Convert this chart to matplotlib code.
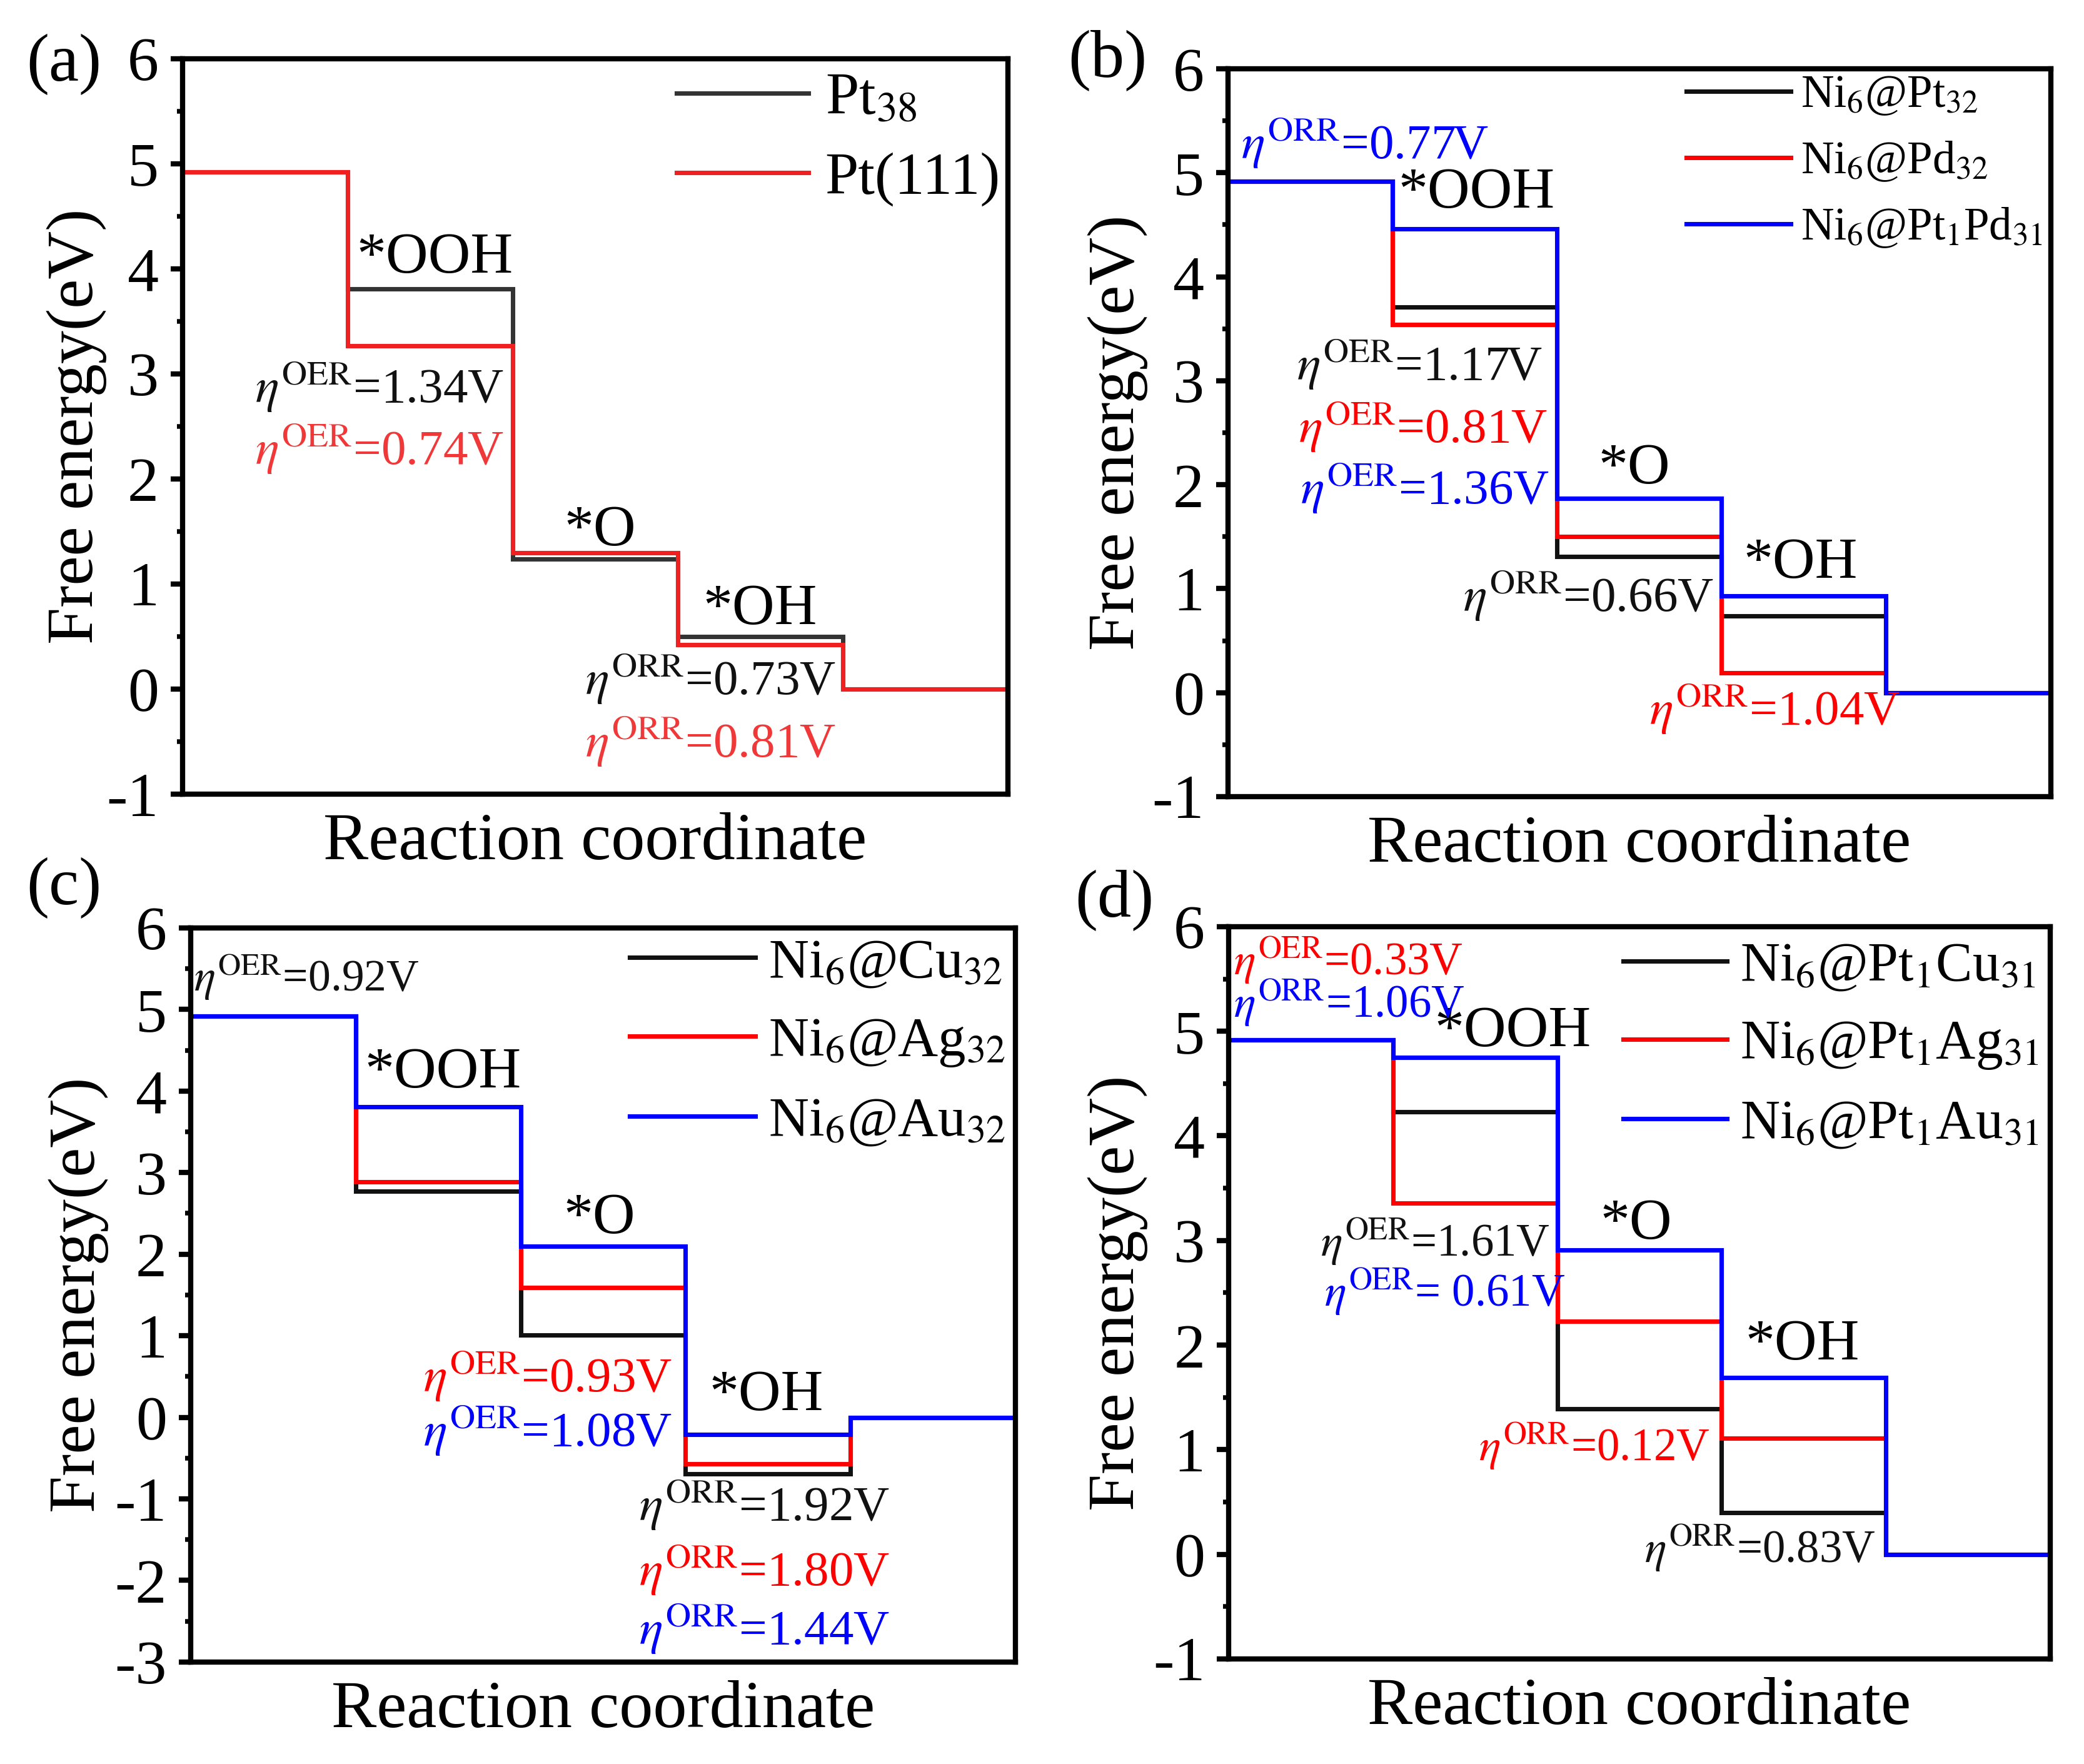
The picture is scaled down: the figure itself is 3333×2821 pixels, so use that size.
import matplotlib
matplotlib.use("Agg")
import matplotlib.pyplot as plt
import numpy as np

plt.rcParams['font.family'] = ['Liberation Serif', 'DejaVu Serif']
plt.rcParams['mathtext.fontset'] = 'stix'
plt.rcParams['axes.unicode_minus'] = False

# ---------------- data ----------------
steps = [0, 1, 2, 3, 4, 5]  # reaction coordinate edges (O2, *OOH, *O, *OH, H2O)

# panel (a)
a_names = [r'Pt$_{38}$', 'Pt(111)']
a_pt38 = [4.92, 3.81, 1.24, 0.50, 0.00]
a_pt111 = [4.92, 3.27, 1.30, 0.42, 0.00]

# panel (b)
b_names = [r'Ni$_6$@Pt$_{32}$', r'Ni$_6$@Pd$_{32}$', r'Ni$_6$@Pt$_1$Pd$_{31}$']
b_pt32 = [4.92, 3.71, 1.31, 0.74, 0.00]
b_pd32 = [4.92, 3.54, 1.50, 0.19, 0.00]
b_pt1pd31 = [4.92, 4.46, 1.87, 0.93, 0.00]

# panel (c)
c_names = [r'Ni$_6$@Cu$_{32}$', r'Ni$_6$@Ag$_{32}$', r'Ni$_6$@Au$_{32}$']
c_cu32 = [4.92, 2.77, 1.01, -0.69, 0.00]
c_ag32 = [4.92, 2.89, 1.59, -0.57, 0.00]
c_au32 = [4.92, 3.81, 2.10, -0.21, 0.00]

# panel (d)
d_names = [r'Ni$_6$@Pt$_1$Cu$_{31}$', r'Ni$_6$@Pt$_1$Ag$_{31}$', r'Ni$_6$@Pt$_1$Au$_{31}$']
d_pt1cu31 = [4.92, 4.23, 1.39, 0.40, 0.00]
d_pt1ag31 = [4.92, 3.36, 2.23, 1.11, 0.00]
d_pt1au31 = [4.92, 4.75, 2.91, 1.69, 0.00]

BLACK = '#111111'
RED = '#FF0000'
BLUE = '#0000FF'

fig = plt.figure(figsize=(3333 / 300, 2821 / 300), dpi=300)

ax_a = fig.add_axes([0.0876, 0.5498, 0.3960, 0.4169])
ax_b = fig.add_axes([0.5892, 0.5484, 0.3948, 0.4126])
ax_c = fig.add_axes([0.0915, 0.0578, 0.3957, 0.4162])
ax_d = fig.add_axes([0.5896, 0.0596, 0.3942, 0.4151])

LW = 1.7


def style(ax, ylim, ylabx):
    ax.set_xlim(0, 5)
    ax.set_ylim(*ylim)
    ax.set_xticks([])
    ax.set_yticks(np.arange(ylim[0], ylim[1] + 1, 1))
    ax.set_yticks(np.arange(ylim[0], ylim[1], 0.5) + 0.5, minor=True)
    ax.tick_params(axis='y', which='major', direction='out', length=4.6, width=2.0,
                   labelsize=24, pad=4.5)
    ax.tick_params(axis='y', which='minor', direction='out', length=2.2, width=1.8)
    for s in ax.spines.values():
        s.set_linewidth(2.0)
    ax.set_ylabel('Free energy(eV)', fontsize=25.5)
    ax.yaxis.set_label_coords(ylabx, 0.5)
    ax.set_xlabel('Reaction coordinate', fontsize=26, labelpad=7)


def eta(kind, val):
    return r'$\eta^{\mathrm{' + kind + r'}}$=' + val


def legend(ax, fs, hl, htp, ls, anchor):
    ax.legend(loc='upper right', bbox_to_anchor=anchor, frameon=False, fontsize=fs,
              handlelength=hl, handletextpad=htp, labelspacing=ls,
              borderaxespad=0.0, borderpad=0.0)


# ---- (a) ----
ax = ax_a
ax.stairs(a_pt38, steps, baseline=None, color='#333333', lw=LW, label=a_names[0])
ax.stairs(a_pt111, steps, baseline=None, color='#F02020', lw=LW, label=a_names[1])
style(ax, (-1, 6), -0.092)
legend(ax, 23, 2.2, 0.28, 0.42, (0.991, 0.982))
ax.text(1.53, 4.10, '*OOH', fontsize=22.5, ha='center', va='center')
ax.text(2.53, 1.50, '*O', fontsize=22.5, ha='center', va='center')
ax.text(3.50, 0.75, '*OH', fontsize=22.5, ha='center', va='center')
ax.text(0.44, 2.87, eta('OER', '1.34V'), fontsize=19, color='#111111', va='center')
ax.text(0.44, 2.28, eta('OER', '0.74V'), fontsize=19, color='#F03838', va='center')
ax.text(2.44, 0.09, eta('ORR', '0.73V'), fontsize=19, color='#111111', va='center')
ax.text(2.44, -0.50, eta('ORR', '0.81V'), fontsize=19, color='#F03838', va='center')

# ---- (b) ----
ax = ax_b
ax.stairs(b_pt32, steps, baseline=None, color=BLACK, lw=LW, label=b_names[0])
ax.stairs(b_pd32, steps, baseline=None, color=RED, lw=LW, label=b_names[1])
ax.stairs(b_pt1pd31, steps, baseline=None, color=BLUE, lw=LW, label=b_names[2])
style(ax, (-1, 6), -0.097)
legend(ax, 17.5, 2.3, 0.22, 0.50, (0.990, 0.992))
ax.text(1.51, 4.80, '*OOH', fontsize=22.5, ha='center', va='center')
ax.text(2.47, 2.15, '*O', fontsize=22.5, ha='center', va='center')
ax.text(3.48, 1.24, '*OH', fontsize=22.5, ha='center', va='center')
ax.text(0.08, 5.28, eta('ORR', '0.77V'), fontsize=19, color=BLUE, va='center')
ax.text(0.42, 3.15, eta('OER', '1.17V'), fontsize=19, color=BLACK, va='center')
ax.text(0.43, 2.55, eta('OER', '0.81V'), fontsize=19, color=RED, va='center')
ax.text(0.44, 1.96, eta('OER', '1.36V'), fontsize=19, color=BLUE, va='center')
ax.text(1.43, 0.93, eta('ORR', '0.66V'), fontsize=19, color=BLACK, va='center')
ax.text(2.56, -0.16, eta('ORR', '1.04V'), fontsize=19, color=RED, va='center')

# ---- (c) ----
ax = ax_c
ax.stairs(c_cu32, steps, baseline=None, color=BLACK, lw=LW, label=c_names[0])
ax.stairs(c_ag32, steps, baseline=None, color=RED, lw=LW, label=c_names[1])
ax.stairs(c_au32, steps, baseline=None, color=BLUE, lw=LW, label=c_names[2])
style(ax, (-3, 6), -0.099)
legend(ax, 21.3, 2.26, 0.24, 0.50, (0.988, 0.986))
ax.text(1.53, 4.22, '*OOH', fontsize=22.5, ha='center', va='center')
ax.text(2.48, 2.43, '*O', fontsize=22.5, ha='center', va='center')
ax.text(3.49, 0.26, '*OH', fontsize=22.5, ha='center', va='center')
ax.text(0.02, 5.40, eta('OER', '0.92V'), fontsize=17.2, color=BLACK, va='center')
ax.text(1.41, 0.50, eta('OER', '0.93V'), fontsize=19, color=RED, va='center')
ax.text(1.41, -0.17, eta('OER', '1.08V'), fontsize=19, color=BLUE, va='center')
ax.text(2.72, -1.08, eta('ORR', '1.92V'), fontsize=19, color=BLACK, va='center')
ax.text(2.72, -1.88, eta('ORR', '1.80V'), fontsize=19, color=RED, va='center')
ax.text(2.72, -2.60, eta('ORR', '1.44V'), fontsize=19, color=BLUE, va='center')

# ---- (d) ----
ax = ax_d
ax.stairs(d_pt1cu31, steps, baseline=None, color=BLACK, lw=LW, label=d_names[0])
ax.stairs(d_pt1ag31, steps, baseline=None, color=RED, lw=LW, label=d_names[1])
ax.stairs(d_pt1au31, steps, baseline=None, color=BLUE, lw=LW, label=d_names[2])
style(ax, (-1, 6), -0.098)
legend(ax, 21, 1.9, 0.24, 0.50, (0.986, 0.980))
ax.text(1.73, 4.99, '*OOH', fontsize=22.5, ha='center', va='center')
ax.text(2.48, 3.15, '*O', fontsize=22.5, ha='center', va='center')
ax.text(3.49, 2.00, '*OH', fontsize=22.5, ha='center', va='center')
ax.text(0.03, 5.68, eta('OER', '0.33V'), fontsize=17.5, color=RED, va='center')
ax.text(0.03, 5.27, eta('ORR', '1.06V'), fontsize=17.5, color=BLUE, va='center')
ax.text(0.56, 2.99, eta('OER', '1.61V'), fontsize=17.5, color=BLACK, va='center')
ax.text(0.58, 2.51, eta('OER', ' 0.61V'), fontsize=17.5, color=BLUE, va='center')
ax.text(1.52, 1.03, eta('ORR', '0.12V'), fontsize=17.5, color=RED, va='center')
ax.text(2.53, 0.06, eta('ORR', '0.83V'), fontsize=17.5, color=BLACK, va='center')

# panel letters
fig.text(0.0126, 0.9635, '(a)', fontsize=26, va='center', ha='left')
fig.text(0.5125, 0.9656, '(b)', fontsize=26, va='center', ha='left')
fig.text(0.0126, 0.4966, '(c)', fontsize=26, va='center', ha='left')
fig.text(0.5157, 0.4896, '(d)', fontsize=26, va='center', ha='left')

fig.savefig('out.png', dpi=300, facecolor='white')
